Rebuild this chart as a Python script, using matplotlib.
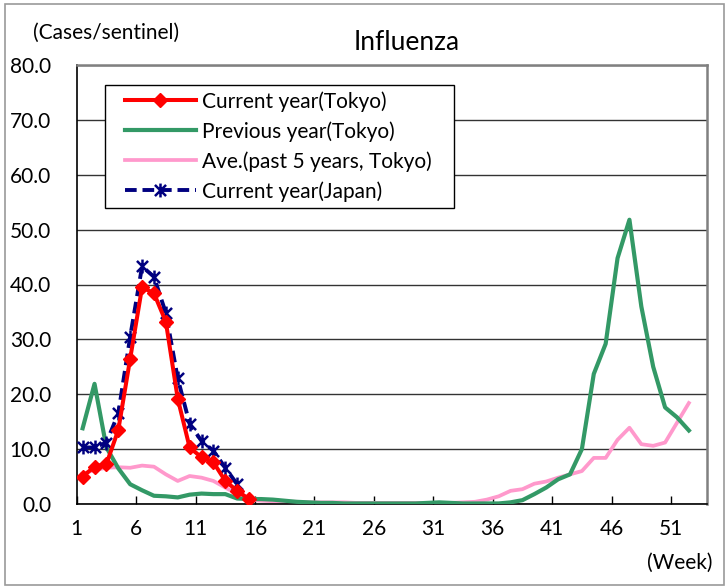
import numpy as np
import matplotlib
matplotlib.use("Agg")
import matplotlib.pyplot as plt
from matplotlib.path import Path
from matplotlib.patches import Rectangle

plt.rcParams['font.family'] = ['Lato', 'DejaVu Sans']

weeks_all = list(range(1, 53))

current_tokyo = [5.0, 6.8, 7.3, 13.5, 26.5, 39.5, 38.4, 33.2, 19.2, 10.3,
                 8.5, 7.6, 4.2, 2.4, 0.9]

current_japan = [10.3, 10.3, 11.2, 16.5, 30.5, 43.3, 41.4, 34.8, 22.9, 14.6,
                 11.5, 9.7, 6.6, 3.6]

previous_tokyo = [13.8, 21.9, 10.3, 6.5, 3.6, 2.5, 1.5, 1.4, 1.2, 1.7,
                  1.9, 1.8, 1.8, 1.0, 0.9, 0.9, 0.8, 0.6, 0.4, 0.3,
                  0.2, 0.2, 0.1, 0.1, 0.1, 0.1, 0.1, 0.1, 0.1, 0.2,
                  0.3, 0.2, 0.1, 0.1, 0.1, 0.1, 0.3, 0.7, 1.8, 3.0,
                  4.5, 5.4, 10.0, 23.7, 29.2, 44.8, 51.8, 36.0, 25.0, 17.6,
                  15.8, 13.4]

average_5y = [5.5, 6.2, 6.6, 6.7, 6.6, 7.0, 6.8, 5.4, 4.2, 5.1,
              4.8, 4.2, 3.0, 1.8, 0.8, 0.6, 0.5, 0.4, 0.4, 0.3,
              0.3, 0.3, 0.3, 0.2, 0.2, 0.2, 0.2, 0.2, 0.2, 0.2,
              0.2, 0.2, 0.3, 0.4, 0.8, 1.4, 2.4, 2.7, 3.7, 4.1,
              4.8, 5.4, 6.0, 8.4, 8.4, 11.7, 13.9, 10.9, 10.6, 11.2,
              14.8, 18.4]

x_tick_labels = ['1', '6', '11', '16', '21', '26', '31', '36', '41', '46', '51']
y_ticks = [0, 10, 20, 30, 40, 50, 60, 70, 80]

W, H = 728, 587
fig = plt.figure(figsize=(W / 100, H / 100), dpi=100)


def fx(px):
    return px / W


def fy(py):
    return 1 - py / H


fig.patches.append(Rectangle((fx(5), fy(585)), 719 / W, 581 / H, transform=fig.transFigure,
                             fill=False, edgecolor='#9a9a9a', linewidth=1.2))

left, right, top, bottom = 76.7, 706.7, 65, 504
ax = fig.add_axes([fx(left), fy(bottom), (right - left) / W, (bottom - top) / H])

# asterisk marker: vertical line + X
ast = Path([(0, -1), (0, 1), (-0.8, -0.8), (0.8, 0.8), (-0.8, 0.8), (0.8, -0.8)],
           [Path.MOVETO, Path.LINETO, Path.MOVETO, Path.LINETO, Path.MOVETO, Path.LINETO])

w_cur = list(range(1, len(current_tokyo) + 1))
w_jap = list(range(1, len(current_japan) + 1))

l1, = ax.plot(w_cur, current_tokyo, color='#FF0000', lw=2.9, marker='D', markersize=7,
              markeredgecolor='#FF0000', zorder=5, label='Current year(Tokyo)')
l2, = ax.plot(weeks_all, previous_tokyo, color='#339966', lw=3.0, zorder=3,
              label='Previous year(Tokyo)')
l3, = ax.plot(weeks_all, average_5y, color='#FF99CC', lw=2.7, zorder=2,
              label='Ave.(past 5 years, Tokyo)')
l4, = ax.plot(w_jap, current_japan, color='#000080', lw=2.8, ls=(0, (3, 1.5)), marker=ast,
              markersize=10, markeredgewidth=1.8, zorder=4, label='Current year(Japan)')

ax.set_xlim(0.5, 53.5)
ax.set_ylim(0, 80)
ax.set_yticks(y_ticks)
ax.set_yticklabels([f'{v:.1f}' for v in y_ticks], fontsize=15)
ax.set_xticks([int(s) - 0.5 for s in x_tick_labels])
ax.set_xticklabels(x_tick_labels, fontsize=15)
ax.tick_params(axis='x', direction='in', length=6, width=1, pad=11, colors='black')
ax.tick_params(axis='y', length=0, pad=18.5)
ax.grid(axis='y', color='#333333', linewidth=1.0)
ax.set_axisbelow(True)
for s in ['top', 'right']:
    ax.spines[s].set_color('#808080')
    ax.spines[s].set_linewidth(1.8)
for s in ['left', 'bottom']:
    ax.spines[s].set_color('#000000')
    ax.spines[s].set_linewidth(1.2)

# legend frame drawn explicitly at its pixel position
fig.patches.append(Rectangle((fx(105), fy(208)), (454 - 105) / W, (208 - 85) / H,
                             transform=fig.transFigure, fill=True, facecolor='white',
                             edgecolor='black', linewidth=1.0, zorder=6))
leg = fig.legend(handles=[l1, l2, l3, l4], loc='upper left',
                 bbox_to_anchor=(fx(125), fy(91)),
                 fontsize=15, frameon=False,
                 handlelength=3.4, handletextpad=0.3, labelspacing=0.45,
                 borderpad=0, borderaxespad=0)
leg.set_zorder(7)

fig.text(fx(106), fy(33), '(Cases/sentinel)', fontsize=15, ha='center', va='center')
fig.text(fx(407), fy(42), 'Influenza', fontsize=19, ha='center', va='center')
fig.text(fx(680), fy(563), '(Week)', fontsize=15, ha='center', va='center')

fig.savefig('out.png', dpi=100)
